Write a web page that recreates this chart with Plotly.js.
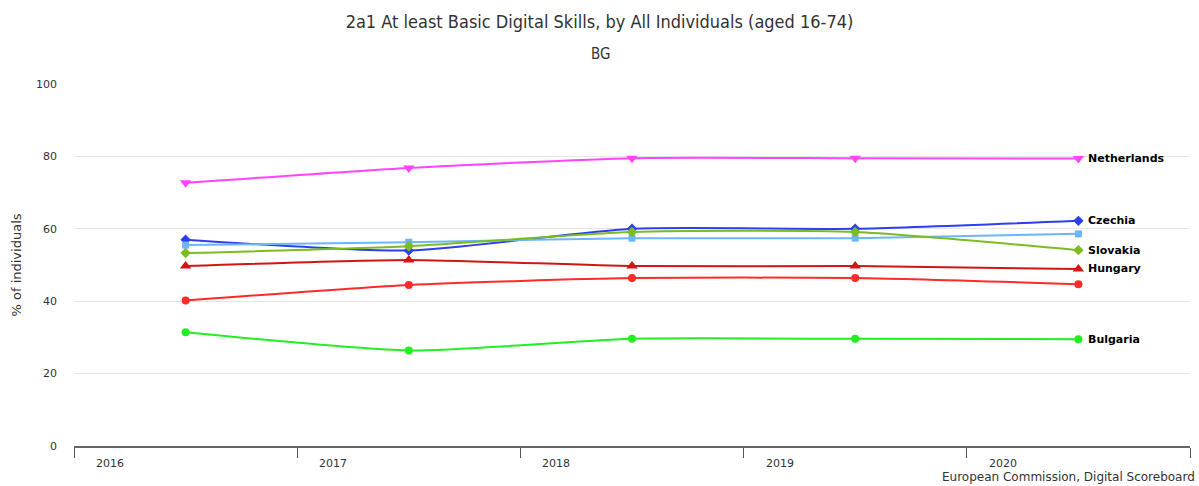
<!DOCTYPE html>
<html><head><meta charset="utf-8">
<script src="https://cdn.plot.ly/plotly-3.0.1.min.js"></script>
<style>html,body{margin:0;padding:0;background:#fff}#chart{width:1199px;height:486px}</style>
</head><body><div id="chart"></div>
<script>
const years = ["2016", "2017", "2018", "2019", "2020"];
const netherlands = [72.7, 76.8, 79.5, 79.5, 79.4];
const czechia = [57, 54, 60, 60, 62.2];
const euAverage = [55.5, 56.3, 57.4, 57.4, 58.6];
const slovakia = [53.3, 55.2, 59.1, 59.1, 54.1];
const hungary = [49.7, 51.4, 49.7, 49.7, 48.9];
const poland = [40.2, 44.5, 46.4, 46.4, 44.7];
const bulgaria = [31.4, 26.4, 29.6, 29.6, 29.5];
const yTicks = [0, 20, 40, 60, 80, 100];

const series = [
  {name: "Netherlands", y: netherlands, color: "#ff44ff", symbol: "triangle-down", label: true},
  {name: "Czechia", y: czechia, color: "#2b3ff0", symbol: "diamond", label: true},
  {name: "EU", y: euAverage, color: "#6cb6ff", symbol: "square", label: false},
  {name: "Slovakia", y: slovakia, color: "#7dbb22", symbol: "diamond", label: true},
  {name: "Hungary", y: hungary, color: "#d01515", symbol: "triangle-up", label: true},
  {name: "Poland", y: poland, color: "#ff2a2a", symbol: "circle", label: false},
  {name: "Bulgaria", y: bulgaria, color: "#22ee22", symbol: "circle", label: true}
];

const markerSize = {"triangle-down": 10, "triangle-up": 10, "diamond": 8, "square": 7, "circle": 8};

const xIdx = years.map((_, i) => i);
const traces = series.map(s => ({
  type: "scatter", mode: "lines+markers", name: s.name,
  x: xIdx, y: s.y,
  line: {color: s.color, width: 2, shape: "spline", smoothing: 0.6},
  marker: {color: s.color, symbol: s.symbol, size: markerSize[s.symbol]},
  hoverinfo: "x+y+name"
}));

const annotations = [];
series.forEach(s => {
  if (!s.label) return;
  annotations.push({
    x: years.length - 1, y: s.y[s.y.length - 1], xref: "x", yref: "y",
    text: "<b>" + s.name + "</b>", showarrow: false, xanchor: "left", xshift: 8,
    font: {family: "DejaVu Sans, sans-serif", size: 11, color: "#000"}
  });
});
years.forEach((yr, i) => {
  annotations.push({
    x: i - 0.5, y: 0, xref: "x", yref: "y", text: yr, showarrow: false,
    xanchor: "center", yanchor: "top", xshift: 36, yshift: -9,
    font: {family: "DejaVu Sans, sans-serif", size: 11, color: "#333"}
  });
});
annotations.push({
  x: 1, y: 0, xref: "paper", yref: "paper", text: "European Commission, Digital Scoreboard",
  showarrow: false, xanchor: "right", yanchor: "top", xshift: 7, yshift: -22,
  font: {family: "DejaVu Sans, sans-serif", size: 12, color: "#333"}
});
annotations.push({
  x: (600 - 74) / 1116, y: 1, xref: "paper", yref: "paper", text: "BG",
  showarrow: false, xanchor: "center", yanchor: "middle", yshift: 30,
  font: {family: "DejaVu Sans Condensed, DejaVu Sans, sans-serif", size: 15, color: "#333"}
});

const boundaries = years.map((_, i) => i - 0.5).concat([years.length - 0.5]);

const layout = {
  width: 1199, height: 486,
  margin: {l: 74, r: 9, t: 84, b: 40},
  paper_bgcolor: "#fff", plot_bgcolor: "#fff",
  showlegend: false,
  title: {text: "2a1 At least Basic Digital Skills, by All Individuals (aged 16-74)",
    x: 0.5, xref: "container", xanchor: "center", y: 0.955, yanchor: "middle",
    font: {family: "DejaVu Sans Condensed, DejaVu Sans, sans-serif", size: 18, color: "#333"}},
  xaxis: {range: [-0.5, years.length - 0.5], tickmode: "array", tickvals: boundaries,
    ticktext: boundaries.map(() => ""), ticks: "outside", ticklen: 10, tickcolor: "#555",
    tickwidth: 1, showgrid: false, zeroline: false, showline: true, linecolor: "#666", linewidth: 1.5,
    fixedrange: true},
  yaxis: {range: [0, 100], tickvals: yTicks, showgrid: true, gridcolor: "#e6e6e6",
    zeroline: false, showline: false, ticks: "", ticklabelstandoff: 16,
    tickfont: {family: "DejaVu Sans, sans-serif", size: 11, color: "#333"},
    title: {text: "% of individuals", standoff: 11,
      font: {family: "DejaVu Sans, sans-serif", size: 13, color: "#333"}}},
  annotations: annotations
};

Plotly.newPlot("chart", traces, layout, {displayModeBar: false, staticPlot: true});
</script></body></html>
